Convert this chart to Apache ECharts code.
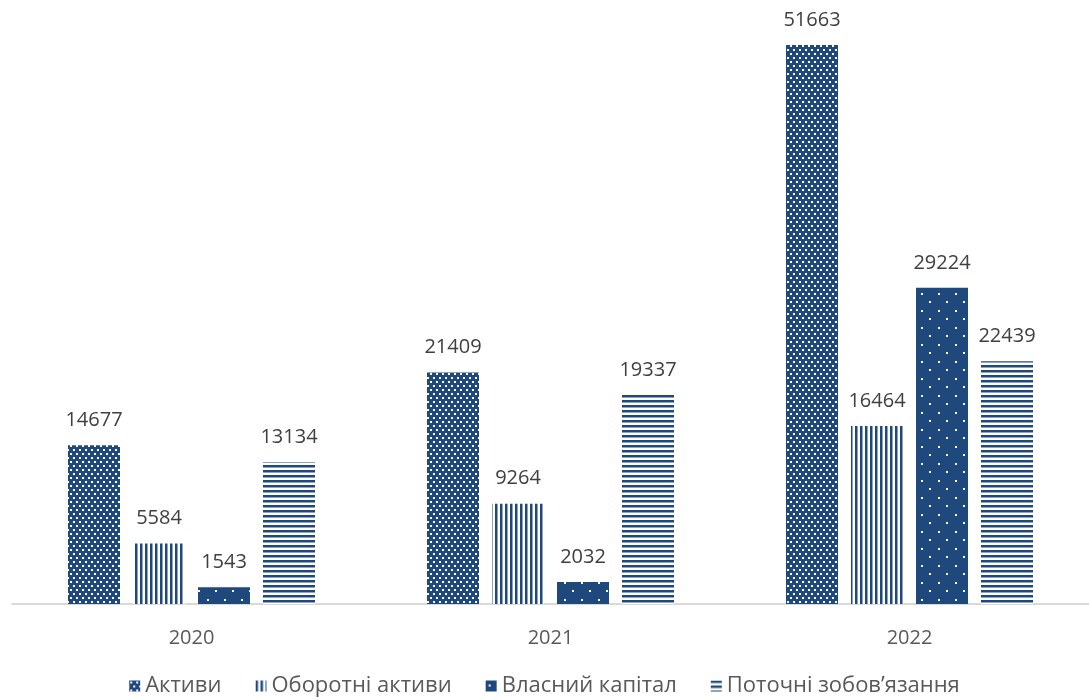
<!DOCTYPE html>
<html>
<head>
<meta charset="utf-8">
<script src="https://cdn.jsdelivr.net/npm/echarts@6/dist/echarts.min.js"></script>
<style>
  html, body { margin: 0; padding: 0; background: #fff; }
  #chart { width: 1089px; height: 700px; }
</style>
</head>
<body>
<div id="chart"></div>
<script>
// дані
const years = ['2020', '2021', '2022']
const seriesNames = ['Активи', 'Оборотні активи', 'Власний капітал', 'Поточні зобов’язання']
const aktyvy = [14677, 21409, 51663]
const oborotni = [5584, 9264, 16464]
const vlasnyi = [1543, 2032, 29224]
const potochni = [13134, 19337, 22439]

const BLUE = '#1f497d'

// візерунки заливки
function makePattern(kind) {
  const c = document.createElement('canvas')
  const ctx = c.getContext('2d')
  if (kind === 'dots') {
    c.width = 6; c.height = 8
    ctx.fillStyle = BLUE; ctx.fillRect(0, 0, 6, 8)
    ctx.fillStyle = '#fff'
    ctx.fillRect(1, 1, 2, 2)
    ctx.fillRect(4, 5, 2, 2)
  } else if (kind === 'vlines') {
    c.width = 5; c.height = 5
    ctx.fillStyle = '#fff'; ctx.fillRect(0, 0, 5, 5)
    ctx.fillStyle = BLUE; ctx.fillRect(0, 0, 2.5, 5)
  } else if (kind === 'sparse') {
    c.width = 17; c.height = 17
    ctx.fillStyle = BLUE; ctx.fillRect(0, 0, 17, 17)
    ctx.fillStyle = '#fff'
    ctx.fillRect(3, 4, 2, 2)
    ctx.fillRect(11, 12, 2, 2)
  } else {
    c.width = 5; c.height = 5
    ctx.fillStyle = '#fff'; ctx.fillRect(0, 0, 5, 5)
    ctx.fillStyle = BLUE; ctx.fillRect(0, 0, 5, 2.5)
  }
  return { image: c, repeat: 'repeat' }
}

const patterns = ['dots', 'vlines', 'sparse', 'hlines']
const values = [aktyvy, oborotni, vlasnyi, potochni]

const myEcharts = echarts.init(document.getElementById('chart'))
const option = {
  animation: false,
  backgroundColor: '#fff',
  textStyle: { fontFamily: 'Open Sans' },
  grid: {
    left: 12,
    width: 1080,
    top: 9,
    bottom: 96
  },
  legend: {
    bottom: -2,
    left: 'center',
    icon: 'rect',
    itemWidth: 11,
    itemHeight: 11,
    itemGap: 34,
    textStyle: { fontSize: 22, color: '#595959', fontFamily: 'Open Sans' },
    data: seriesNames
  },
  xAxis: {
    type: 'category',
    data: years,
    axisLine: { lineStyle: { color: '#d9d9d9', width: 2 } },
    axisTick: { show: false },
    axisLabel: { fontSize: 20, color: '#595959', margin: 24 }
  },
  yAxis: {
    type: 'value',
    min: 0,
    max: 55000,
    show: false
  },
  series: seriesNames.map((name, i) => ({
    name: name,
    type: 'bar',
    barWidth: 52,
    barGap: '25%',
    data: values[i],
    itemStyle: { color: makePattern(patterns[i]) },
    label: {
      show: true,
      position: 'top',
      distance: 15,
      fontSize: 20,
      color: '#404040'
    }
  }))
}
option && myEcharts.setOption(option)
</script>
</body>
</html>
